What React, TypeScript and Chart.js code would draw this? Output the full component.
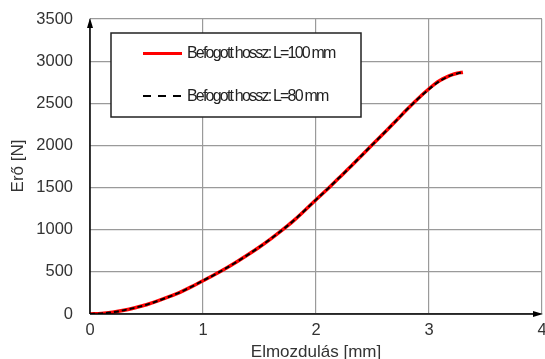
import React, { useEffect, useRef } from "react";
import { Chart, registerables } from "chart.js";

Chart.register(...registerables);

const displacement = [0, 0.1, 0.2, 0.3, 0.4, 0.5, 0.6, 0.7, 0.8, 0.9, 1.0, 1.1, 1.2, 1.3, 1.4, 1.5, 1.6, 1.7, 1.8, 1.9, 2.0, 2.1, 2.2, 2.3, 2.4, 2.5, 2.6, 2.7, 2.8, 2.9, 3.0, 3.05, 3.1, 3.15, 3.2, 3.25, 3.3];
const forceL100 = [0, 6, 22, 45, 75, 110, 155, 205, 260, 325, 395, 465, 540, 620, 705, 795, 892, 995, 1105, 1228, 1355, 1480, 1610, 1740, 1875, 2010, 2145, 2280, 2420, 2552, 2672, 2727, 2772, 2807, 2836, 2856, 2868];
const forceL80 = [0, 6, 22, 45, 75, 110, 155, 205, 260, 325, 395, 465, 540, 620, 705, 795, 892, 995, 1105, 1228, 1355, 1480, 1610, 1740, 1875, 2010, 2145, 2280, 2420, 2550, 2667, 2722, 2769, 2804, 2834, 2854, 2866];
const seriesLabels = ["Befogott hossz: L=100 mm", "Befogott hossz: L=80 mm"];
const xTitle = "Elmozdulás [mm]";
const yTitle = "Erő [N]";

const overlayPlugin = {
  id: "overlay",
  afterDraw(chart: any) {
    const ctx = chart.ctx;
    const xs = chart.scales.x;
    const ys = chart.scales.y;
    const x0 = xs.getPixelForValue(0);
    const y0 = ys.getPixelForValue(0);
    const xEnd = xs.getPixelForValue(4);
    const yEnd = ys.getPixelForValue(3500);
    ctx.save();
    ctx.strokeStyle = "#000";
    ctx.fillStyle = "#000";
    ctx.lineWidth = 1.5;
    ctx.beginPath();
    ctx.moveTo(x0, y0);
    ctx.lineTo(x0, yEnd + 6);
    ctx.moveTo(x0, y0);
    ctx.lineTo(xEnd - 6, y0);
    ctx.stroke();
    ctx.beginPath();
    ctx.moveTo(x0, yEnd - 1);
    ctx.lineTo(x0 - 3, yEnd + 9);
    ctx.lineTo(x0 + 3, yEnd + 9);
    ctx.closePath();
    ctx.fill();
    ctx.beginPath();
    ctx.moveTo(xEnd + 1, y0);
    ctx.lineTo(xEnd - 9, y0 - 3);
    ctx.lineTo(xEnd - 9, y0 + 3);
    ctx.closePath();
    ctx.fill();

    ctx.fillStyle = "#333";
    ctx.font = "17px 'Liberation Sans', Arial, sans-serif";
    ctx.textAlign = "center";
    ctx.textBaseline = "middle";
    ctx.fillText(xTitle, (x0 + xEnd) / 2, 352);
    ctx.save();
    ctx.translate(18, 166);
    ctx.rotate(-Math.PI / 2);
    ctx.fillText(yTitle, 0, 0);
    ctx.restore();

    ctx.fillStyle = "#fff";
    ctx.fillRect(111, 33, 250, 84);
    ctx.strokeStyle = "#222";
    ctx.lineWidth = 1.5;
    ctx.strokeRect(111, 33, 250, 84);
    ctx.lineWidth = 3;
    ctx.strokeStyle = "#ff0000";
    ctx.beginPath();
    ctx.moveTo(143, 53.5);
    ctx.lineTo(182, 53.5);
    ctx.stroke();
    ctx.lineWidth = 2;
    ctx.strokeStyle = "#000";
    ctx.setLineDash([8, 7]);
    ctx.beginPath();
    ctx.moveTo(143, 96);
    ctx.lineTo(182, 96);
    ctx.stroke();
    ctx.setLineDash([]);
    ctx.fillStyle = "#222";
    ctx.font = "16px 'Liberation Sans', Arial, sans-serif";
    (ctx as any).letterSpacing = "-1.8px";
    ctx.textAlign = "left";
    ctx.textBaseline = "middle";
    ctx.fillText(seriesLabels[0], 187, 54);
    ctx.fillText(seriesLabels[1], 187, 96.5);
    (ctx as any).letterSpacing = "0px";
    ctx.restore();
  },
};

export default function App() {
  const ref = useRef<HTMLCanvasElement>(null);
  useEffect(() => {
    document.body.style.margin = "0";
    document.body.style.overflow = "hidden";
    const canvas = ref.current!;
    const chart = new Chart(canvas, {
      type: "line",
      data: {
        datasets: [
          {
            label: seriesLabels[0],
            data: displacement.map((x, i) => ({ x, y: forceL100[i] })),
            borderColor: "#ff0000",
            borderWidth: 3.5,
            pointRadius: 0,
            cubicInterpolationMode: "monotone",
            order: 2,
          },
          {
            label: seriesLabels[1],
            data: displacement.map((x, i) => ({ x, y: forceL80[i] })),
            borderColor: "#000",
            borderWidth: 2,
            borderDash: [5, 3],
            pointRadius: 0,
            cubicInterpolationMode: "monotone",
            order: 1,
          },
        ],
      },
      options: {
        responsive: false,
        animation: false,
        devicePixelRatio: 1,
        layout: { padding: { left: 0, top: 19, right: 18, bottom: 0 } },
        plugins: { legend: { display: false }, tooltip: { enabled: false } },
        scales: {
          x: {
            type: "linear",
            min: 0,
            max: 4,
            afterFit: (s: any) => { s.height = 45; s.paddingLeft = 0; s.paddingRight = 0; },
            ticks: {
              stepSize: 1,
              padding: 7,
              color: "#333",
              callback: (v: any) => String(v),
              font: { size: 16.5, family: "'Liberation Sans', Arial, sans-serif" },
            },
            grid: { color: "#9a9a9a", lineWidth: 1.2, drawTicks: false },
            border: { display: false },
          },
          y: {
            type: "linear",
            min: 0,
            max: 3500,
            afterFit: (s: any) => { s.width = 90; s.paddingTop = 0; s.paddingBottom = 0; },
            ticks: {
              stepSize: 500,
              padding: 17,
              color: "#333",
              callback: (v: any) => String(v),
              font: { size: 16.5, family: "'Liberation Sans', Arial, sans-serif" },
            },
            grid: { color: "#9a9a9a", lineWidth: 1.2, drawTicks: false },
            border: { display: false },
          },
        },
      },
      plugins: [overlayPlugin],
    } as any);
    return () => chart.destroy();
  }, []);
  return (
    <div style={{ position: "fixed", left: 0, top: 0, width: 560, height: 359 }}>
      <canvas ref={ref} width={560} height={359} />
    </div>
  );
}
